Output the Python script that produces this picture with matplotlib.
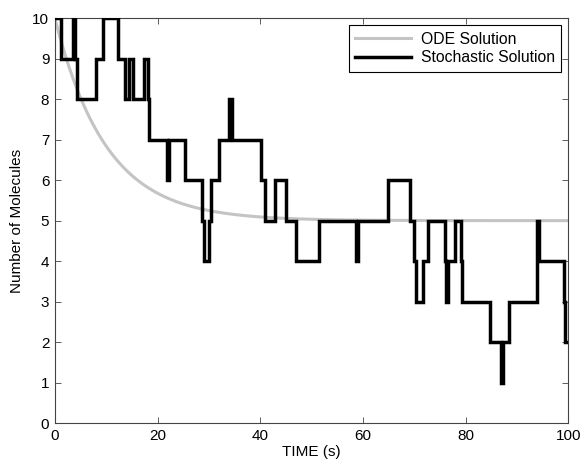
import numpy as np
import matplotlib
matplotlib.use("Agg")
import matplotlib.pyplot as plt

plt.rcParams['font.family'] = ['Liberation Sans', 'DejaVu Sans']

# Stochastic trajectory: jump times (s) and molecule counts held after each jump
stoch_times = [0.0, 1.1, 3.5, 4.0, 4.3, 8.0, 9.3, 12.3, 13.6, 14.5, 15.3, 17.4, 18.1, 18.4,
               21.9, 22.2, 25.3, 28.7, 29.1, 30.1, 30.5, 32.0, 34.0, 34.5, 40.1, 40.9,
               42.9, 45.0, 46.9, 51.4, 58.6, 59.0, 64.8, 69.2, 70.0, 70.3, 71.7, 72.6,
               76.0, 76.2, 76.5, 78.0, 79.1, 79.4, 84.7, 86.9, 87.2, 88.4, 94.0, 94.3,
               99.1, 99.4, 100.0]
stoch_counts = [10, 9, 10, 9, 8, 9, 10, 9, 8, 9, 8, 9, 8, 7,
                6, 7, 6, 5, 4, 5, 6, 7, 8, 7, 6, 5,
                6, 5, 4, 5, 4, 5, 6, 5, 4, 3, 4, 5,
                4, 3, 4, 5, 4, 3, 2, 1, 2, 3, 5, 4,
                3, 2, 2]

# Deterministic model: dx/dt = k_prod - k_deg * x
k_prod = 0.5
k_deg = 0.1
x_start = 10.0
t_end = 100.0

def solve_ode(t_final, n_steps=2000):
    t = np.linspace(0.0, t_final, n_steps + 1)
    x = np.empty_like(t)
    x[0] = x_start
    dt = t[1] - t[0]
    f = lambda v: k_prod - k_deg * v
    for i in range(n_steps):
        k1 = f(x[i]); k2 = f(x[i] + 0.5 * dt * k1)
        k3 = f(x[i] + 0.5 * dt * k2); k4 = f(x[i] + dt * k3)
        x[i + 1] = x[i] + dt * (k1 + 2 * k2 + 2 * k3 + k4) / 6.0
    return t, x

ode_t, ode_x = solve_ode(t_end)

fig = plt.figure(figsize=(5.84, 4.66), dpi=100)
ax = fig.add_axes([0.094, 0.092, 0.879, 0.869])

ax.plot(ode_t, ode_x, color='#c4c4c4', lw=2.2, label='ODE Solution', zorder=2)
ax.plot(stoch_times, stoch_counts, color='black', lw=2.5, drawstyle='steps-post',
        label='Stochastic Solution', zorder=3, solid_joinstyle='miter')

ax.set_xlim(0, 100)
ax.set_ylim(0, 10)
ax.set_xticks(np.arange(0, 101, 20))
ax.set_yticks(np.arange(0, 11, 1))
ax.tick_params(direction='in', top=True, right=True, labelsize=11, length=4,
               width=0.6, color='#444444', pad=4)
for s in ax.spines.values():
    s.set_color('#444444')
    s.set_linewidth(0.8)

ax.set_xlabel('TIME (s)', fontsize=11, labelpad=2)
ax.set_ylabel('Number of Molecules', fontsize=11, labelpad=6)

leg = ax.legend(loc='upper right', fontsize=11.3, fancybox=False, framealpha=1,
                edgecolor='black', handlelength=3.6, borderpad=0.4,
                labelspacing=0.25, handletextpad=0.6, borderaxespad=0.45)
leg.get_frame().set_linewidth(0.8)

fig.savefig('out.png', dpi=100)
